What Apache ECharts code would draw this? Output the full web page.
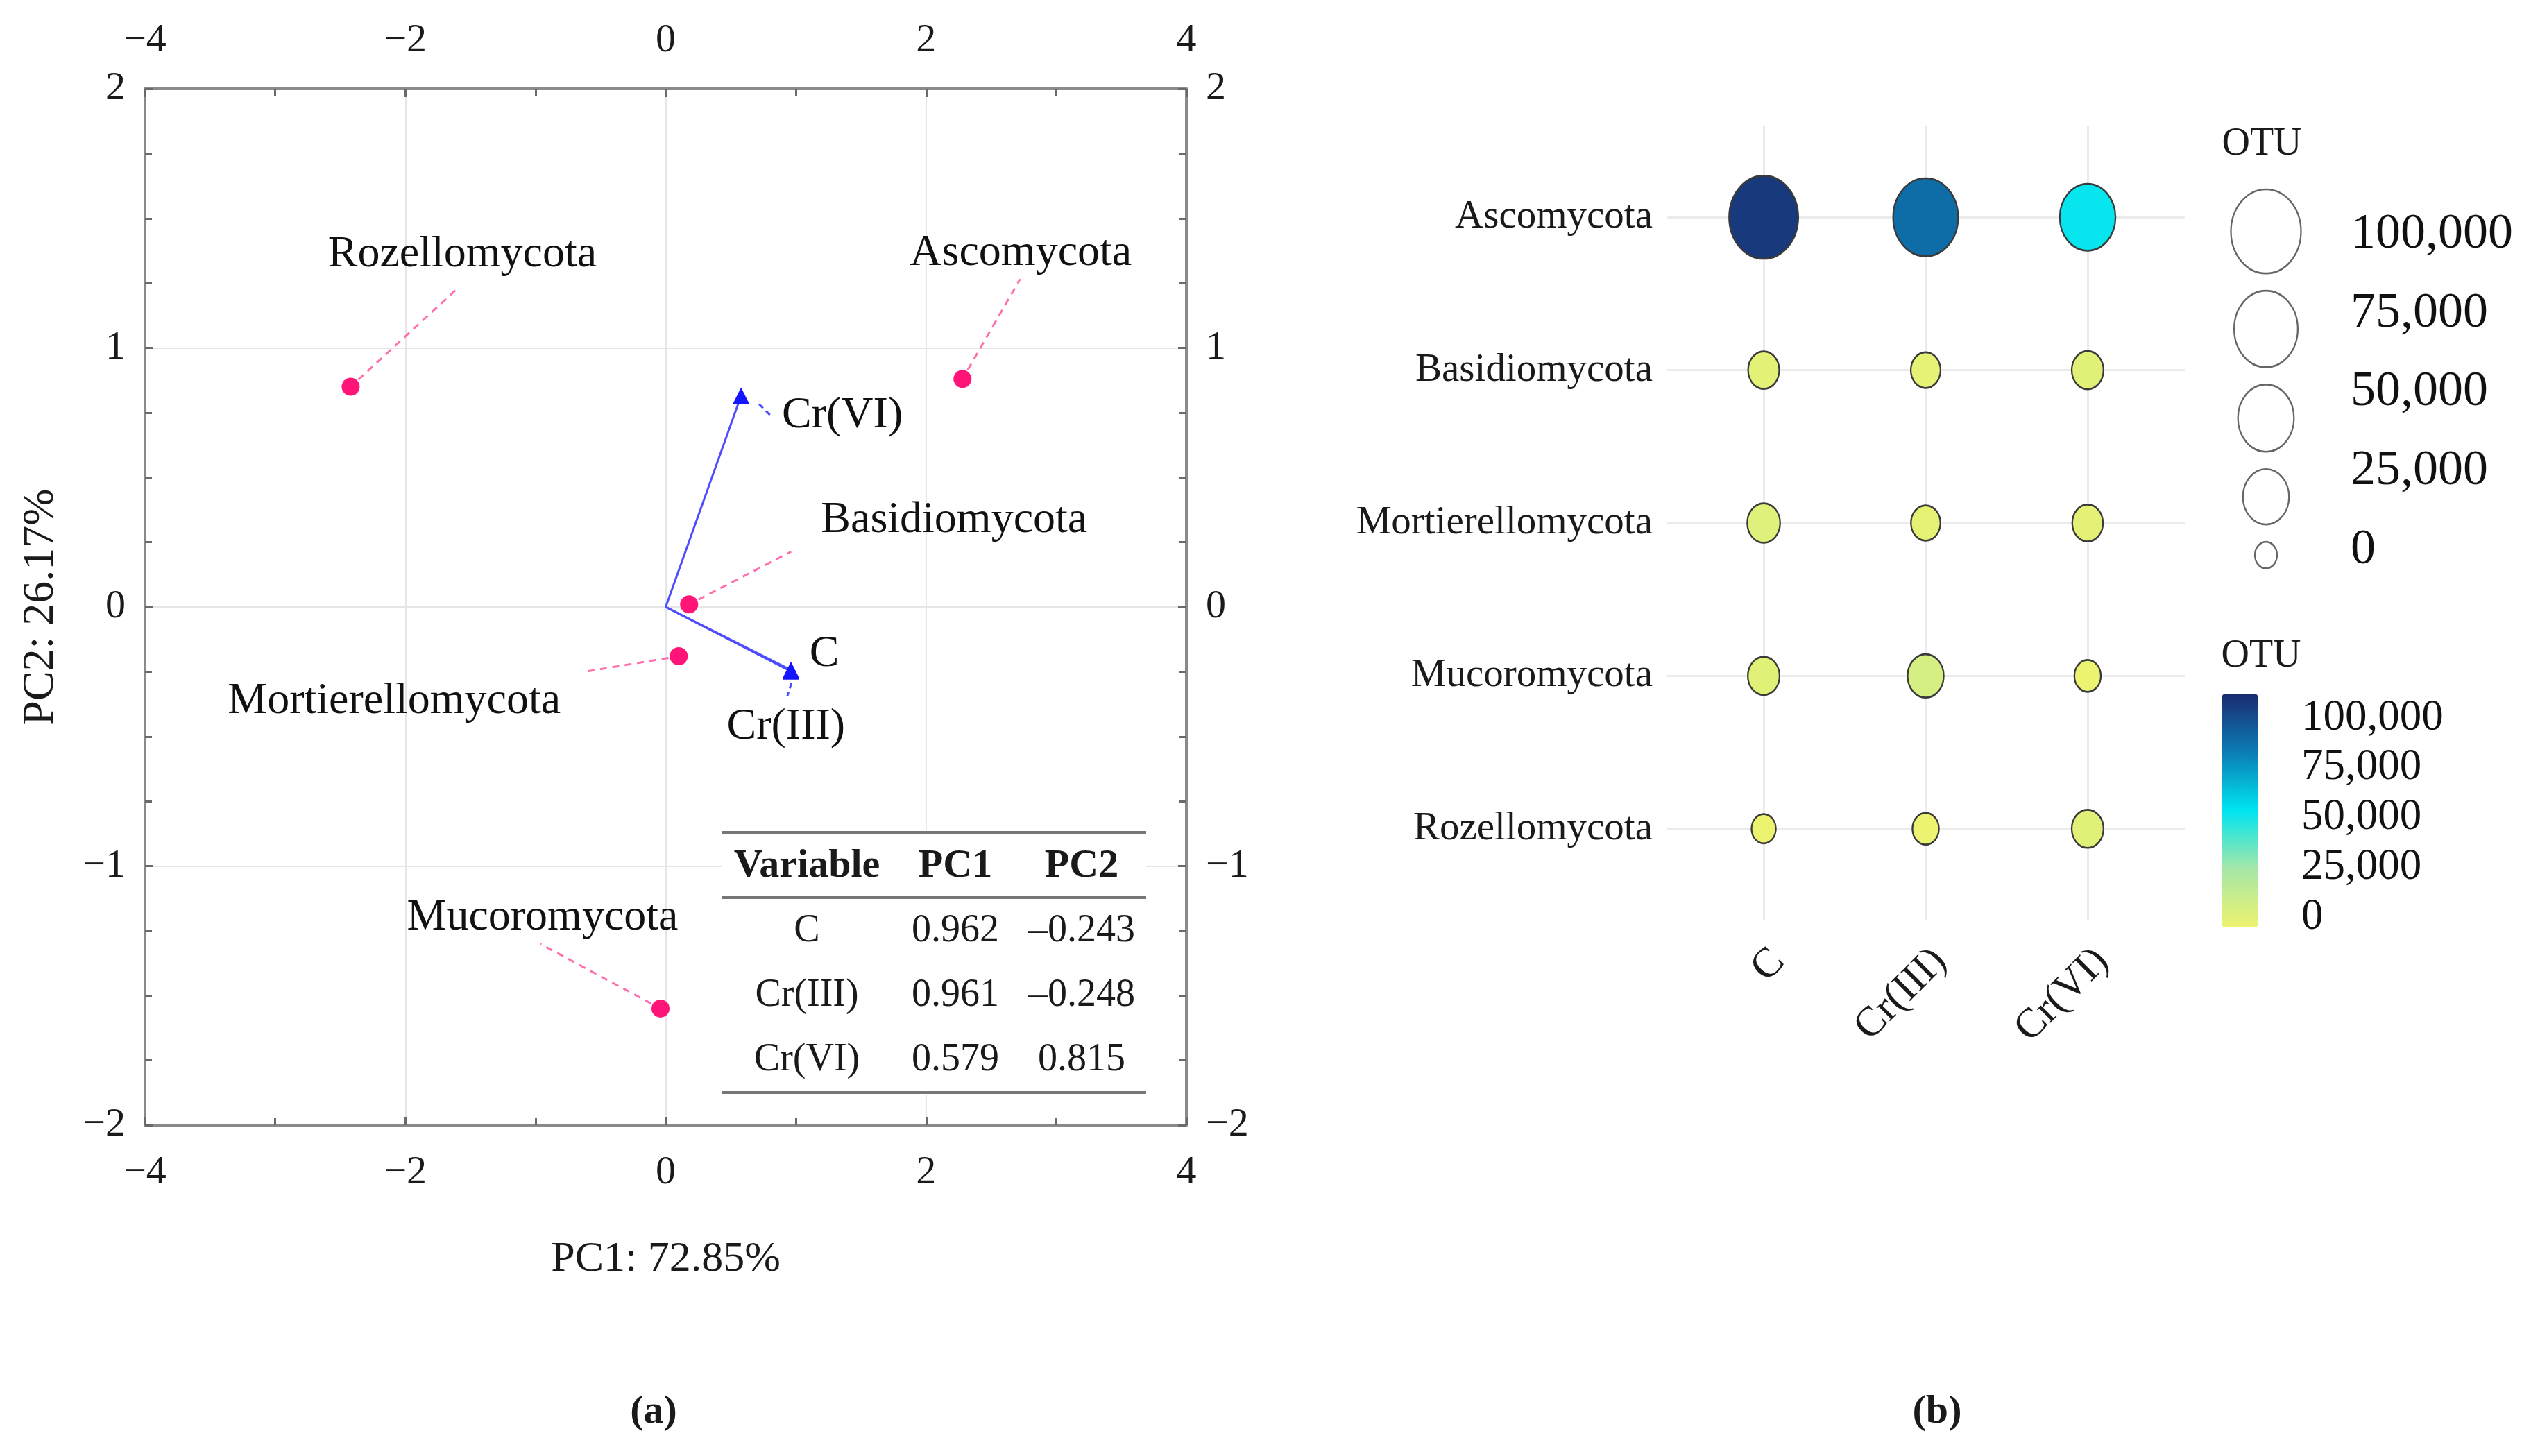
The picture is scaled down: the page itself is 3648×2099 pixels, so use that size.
<!DOCTYPE html>
<html><head><meta charset="utf-8">
<script src="https://cdn.jsdelivr.net/npm/echarts@6/dist/echarts.min.js"></script>
<style>html,body{margin:0;padding:0;background:#fff}#main{width:3648px;height:2099px}</style>
</head><body><div id="main"></div>
<script>
// ---------- Panel (a): PCA biplot ----------
const taxa = ['Rozellomycota', 'Ascomycota', 'Basidiomycota', 'Mortierellomycota', 'Mucoromycota'];
const taxaPC1 = [-2.42, 2.28, 0.18, 0.10, -0.04];
const taxaPC2 = [0.85, 0.88, 0.01, -0.19, -1.55];
const variables = ['C', 'Cr(III)', 'Cr(VI)'];
const loadPC1 = [0.962, 0.961, 0.579];
const loadPC2 = [-0.243, -0.248, 0.815];
const pcaXName = 'PC1: 72.85%';
const pcaYName = 'PC2: 26.17%';
const tableHeader = ['Variable', 'PC1', 'PC2'];

// ---------- Panel (b): bubble plot ----------
const phyla = ['Ascomycota', 'Basidiomycota', 'Mortierellomycota', 'Mucoromycota', 'Rozellomycota'];
const treatments = ['C', 'Cr(III)', 'Cr(VI)'];
const otuC   = [96000, 3500, 5000, 4000, 200];
const otuCr3 = [80000, 2500, 2300, 8500, 800];
const otuCr6 = [49000, 4000, 3200, 800, 4000];
const sizeLegendValues = [100000, 75000, 50000, 25000, 0];
const colorbarTicks = [0, 25000, 50000, 75000, 100000];

// ---------- styling / layout (not data) ----------
const SERIF = "'Liberation Serif', 'Times New Roman', serif";
const taxaLabelOffsets = [[161, -190], [84, -181], [382, -121], [-410, 65], [-170, -131]];
const taxaLeaderEnds = [[152, -140], [83, -144], [147, -76], [-139, 23], [-173, -93]];
const loadLabelOffsets = [[48, -23], [-7, 81], [146, 29]];
const loadLeaders = [null, [[1, 17], [-5, 36]], [[26, 12], [43, 29]]];
const fmtThousands = v => String(v).replace(/\B(?=(\d{3})+(?!\d))/g, ',');
const fmtNeg = v => (v < 0 ? '\u2212' + Math.abs(v) : String(v));
const fmtLoad = v => (v < 0 ? '\u2013' + Math.abs(v).toFixed(3) : v.toFixed(3));
const bubbleSize = v => { const w = 32 + 69 * Math.sqrt(v / 100000); return [w, w * 1.2]; };

const otuByTreatment = [otuC, otuCr3, otuCr6];
const bubbleData = [];
phyla.forEach((p, i) => treatments.forEach((t, j) => bubbleData.push([j, i, otuByTreatment[j][i]])));

// size-legend key stacking (ggplot-like: keys of varying height with a fixed gap)
const LEG_GRID_TOP = 281, LEG_GRID_H = 569, LEG_FIRST_TOP = 273, LEG_GAP = 25;
const legendKeyCenters = [];
{ let y = LEG_FIRST_TOP - LEG_GRID_TOP;
  sizeLegendValues.forEach(v => { const h = bubbleSize(v)[1]; legendKeyCenters.push(y + h / 2); y += h + LEG_GAP; }); }

const frameAxisLine = { show: true, onZero: false, lineStyle: { color: '#8a8a8a', width: 4 } };
const frameTick = { show: true, inside: true, length: 12, lineStyle: { color: '#6a6a6a', width: 3 } };
const frameLabel = { fontFamily: SERIF, fontSize: 58, color: '#1a1a1a', formatter: fmtNeg };

function pcaX(pos, showSplit) {
  return {
    gridIndex: 0, type: 'value', position: pos, min: -4, max: 4, interval: 2,
    axisLine: frameAxisLine, axisTick: frameTick,
    minorTick: { show: true, splitNumber: 2, length: 10, lineStyle: { color: '#6a6a6a', width: 3 } },
    splitLine: { show: showSplit, lineStyle: { color: '#e6e6e6', width: 2 } },
    axisLabel: Object.assign({ margin: 40 }, frameLabel)
  };
}
function pcaY(pos, showSplit) {
  return {
    gridIndex: 0, type: 'value', position: pos, min: -2, max: 2, interval: 1,
    axisLine: frameAxisLine, axisTick: frameTick,
    minorTick: { show: true, splitNumber: 4, length: 10, lineStyle: { color: '#6a6a6a', width: 3 } },
    splitLine: { show: showSplit, lineStyle: { color: '#e6e6e6', width: 2 } },
    axisLabel: Object.assign({ margin: 28 }, frameLabel)
  };
}

const xAxes = [
  Object.assign(pcaX('bottom', true), { name: pcaXName, nameLocation: 'middle', nameGap: 163,
    nameTextStyle: { fontFamily: SERIF, fontSize: 62, color: '#1a1a1a' } }),
  pcaX('top', false),
  { gridIndex: 1, type: 'value', min: -0.6, max: 2.6,
    axisLine: { show: false }, splitLine: { show: false },
    axisTick: { show: true, customValues: [0, 1, 2], length: 9, lineStyle: { color: '#333', width: 3 } },
    axisLabel: { customValues: [0, 1, 2], formatter: v => treatments[Math.round(v)], rotate: 45,
      verticalAlign: 'top', margin: 29, fontFamily: SERIF, fontSize: 60, color: '#1a1a1a' } },
  { gridIndex: 2, type: 'value', min: 0, max: 1, show: false },
  { gridIndex: 3, type: 'value', min: 0, max: 1, show: false }
];
const yAxes = [
  Object.assign(pcaY('left', true), { name: pcaYName, nameLocation: 'middle', nameGap: 118,
    nameTextStyle: { fontFamily: SERIF, fontSize: 64, color: '#1a1a1a' } }),
  pcaY('right', false),
  { gridIndex: 1, type: 'value', min: -0.6, max: 4.6, inverse: true,
    axisLine: { show: false }, splitLine: { show: false },
    axisTick: { show: true, customValues: [0, 1, 2, 3, 4], length: 12, lineStyle: { color: '#333', width: 3 } },
    axisLabel: { customValues: [0, 1, 2, 3, 4], formatter: v => phyla[Math.round(v)], margin: 20,
      fontFamily: SERIF, fontSize: 57, color: '#1a1a1a' } },
  { gridIndex: 2, type: 'category', data: sizeLegendValues.map(fmtThousands), inverse: true, position: 'right',
    axisLine: { show: false }, axisTick: { show: false }, splitLine: { show: false },
    axisLabel: { interval: 0, margin: 56, fontFamily: SERIF, fontSize: 72, color: '#111' } },
  { gridIndex: 3, type: 'value', min: colorbarTicks[0], max: colorbarTicks[colorbarTicks.length - 1],
    interval: colorbarTicks[1] - colorbarTicks[0], position: 'right',
    axisLine: { show: false }, axisTick: { show: false }, splitLine: { show: false },
    axisLabel: { margin: 63, fontFamily: SERIF, fontSize: 63, color: '#111', formatter: fmtThousands } },
  { gridIndex: 2, type: 'value', min: 0, max: LEG_GRID_H, inverse: true, show: false }
];

const series = [];
// taxa scores
series.push({
  type: 'scatter', xAxisIndex: 0, yAxisIndex: 0, z: 4,
  data: taxa.map((n, i) => ({ name: n, value: [taxaPC1[i], taxaPC2[i]] })),
  symbol: 'circle', symbolSize: 26, itemStyle: { color: '#ff1478', opacity: 1 },
  label: { show: true, position: 'inside', formatter: '{b}', fontFamily: SERIF, fontSize: 64, color: '#111' },
  labelLayout: p => ({ dx: taxaLabelOffsets[p.dataIndex][0], dy: taxaLabelOffsets[p.dataIndex][1] })
});
// loading vectors (shafts)
variables.forEach((v, i) => series.push({
  type: 'line', xAxisIndex: 0, yAxisIndex: 0, z: 3, silent: true, symbol: 'none',
  data: [[0, 0], [loadPC1[i], loadPC2[i]]],
  lineStyle: { color: '#4d4dff', width: 3 }
}));
// loading tips
series.push({
  type: 'scatter', xAxisIndex: 0, yAxisIndex: 0, z: 5,
  data: variables.map((n, i) => ({ name: n, value: [loadPC1[i], loadPC2[i]] })),
  symbol: 'triangle', symbolSize: 24, itemStyle: { color: '#1414ff', opacity: 1 },
  label: { show: true, position: 'inside', formatter: '{b}', fontFamily: SERIF, fontSize: 64, color: '#111' },
  labelLayout: p => ({ dx: loadLabelOffsets[p.dataIndex][0], dy: loadLabelOffsets[p.dataIndex][1] })
});
// bubble panel gridlines
series.push({
  type: 'scatter', xAxisIndex: 2, yAxisIndex: 2, z: 1, silent: true, data: [],
  markLine: { silent: true, z: 1, symbol: ['none', 'none'], animation: false, label: { show: false },
    lineStyle: { color: '#ebebeb', width: 3, type: 'solid' },
    data: treatments.map((t, j) => ({ xAxis: j })).concat(phyla.map((p, i) => ({ yAxis: i }))) }
});
// bubbles
const bubbleSeriesIndex = series.length;
series.push({
  type: 'scatter', xAxisIndex: 2, yAxisIndex: 2, z: 6, data: bubbleData,
  symbol: 'circle', symbolSize: v => bubbleSize(v[2]),
  itemStyle: { borderColor: '#3a3a3a', borderWidth: 2.5, opacity: 1 }
});
// size legend keys
series.push({
  type: 'scatter', xAxisIndex: 3, yAxisIndex: 5, z: 3,
  data: sizeLegendValues.map((v, i) => [0.5, legendKeyCenters[i], v]),
  symbol: 'circle', symbolSize: v => bubbleSize(v[2]),
  itemStyle: { color: '#ffffff', borderColor: '#666', borderWidth: 2.5, opacity: 1 }
});

const chart = echarts.init(document.getElementById('main'), null, { renderer: 'canvas' });
chart.setOption({
  animation: false,
  backgroundColor: '#ffffff',
  grid: [
    { left: 209, top: 128, width: 1501, height: 1494, outerBoundsMode: 'none' },
    { left: 2402, top: 181, width: 747, height: 1146, outerBoundsMode: 'none' },
    { left: 3200, top: LEG_GRID_TOP, width: 132, height: LEG_GRID_H, outerBoundsMode: 'none' },
    { left: 3203, top: 1035, width: 51, height: 287, outerBoundsMode: 'none' }
  ],
  xAxis: xAxes,
  yAxis: yAxes,
  visualMap: [{
    type: 'continuous', min: 0, max: 100000, dimension: 2, seriesIndex: bubbleSeriesIndex,
    calculable: false, left: 3203, top: 1001, itemWidth: 51, itemHeight: 335, padding: 0,
    inRange: { color: ['#edf36f', '#a5e7a7', '#00e5f1', '#0b7db5', '#1b2c70'] }
  }],
  series: series
});

// ---------- annotations: leader lines, loadings table, panel tags, legend titles ----------
const graphics = [];
const seg = (x1, y1, x2, y2, stroke, dash, z) => graphics.push({ type: 'line', silent: true, z: z || 2,
  shape: { x1, y1, x2, y2 }, style: { stroke, lineWidth: 3, lineDash: dash || null } });
taxa.forEach((n, i) => {
  const p = chart.convertToPixel({ seriesIndex: 0 }, [taxaPC1[i], taxaPC2[i]]);
  const e = taxaLeaderEnds[i];
  const s = 15 / Math.hypot(e[0], e[1]);
  seg(p[0] + e[0] * s, p[1] + e[1] * s, p[0] + e[0], p[1] + e[1], '#ff6fb0', [10, 8]);
});
variables.forEach((n, i) => {
  const L = loadLeaders[i];
  if (!L) return;
  const p = chart.convertToPixel({ seriesIndex: 0 }, [loadPC1[i], loadPC2[i]]);
  seg(p[0] + L[0][0], p[1] + L[0][1], p[0] + L[1][0], p[1] + L[1][1], '#4d4dff', [8, 6]);
});

const tableCols = [1163, 1377, 1559];
const tableRows = [1249, 1342, 1435, 1528];
const tableLines = [1200, 1294, 1575];
graphics.push({ type: 'rect', silent: true, z: 90, shape: { x: 1040, y: 1196, width: 612, height: 383 },
  style: { fill: '#ffffff' } });
tableLines.forEach(y => seg(1040, y, 1652, y, '#777', null, 95));
graphics.forEach(g => { if (g.z === 95) g.style.lineWidth = 4; });
const addText = (x, y, text, size, weight) => graphics.push({ type: 'text', silent: true, z: 96, x, y,
  style: { text, fill: '#1a1a1a', font: (weight || 'normal') + ' ' + size + 'px ' + SERIF,
    textAlign: 'center', textVerticalAlign: 'middle', align: 'center', verticalAlign: 'middle' } });
tableHeader.forEach((h, c) => addText(tableCols[c], tableRows[0], h, 58, 'bold'));
variables.forEach((v, r) => {
  addText(tableCols[0], tableRows[r + 1], v, 56);
  addText(tableCols[1], tableRows[r + 1], fmtLoad(loadPC1[r]), 56);
  addText(tableCols[2], tableRows[r + 1], fmtLoad(loadPC2[r]), 56);
});
addText(942, 2036, '(a)', 58, 'bold');
addText(2792, 2036, '(b)', 58, 'bold');
addText(3260, 208, 'OTU', 56);
addText(3259, 946, 'OTU', 56);

chart.setOption({ graphic: graphics });
</script></body></html>
